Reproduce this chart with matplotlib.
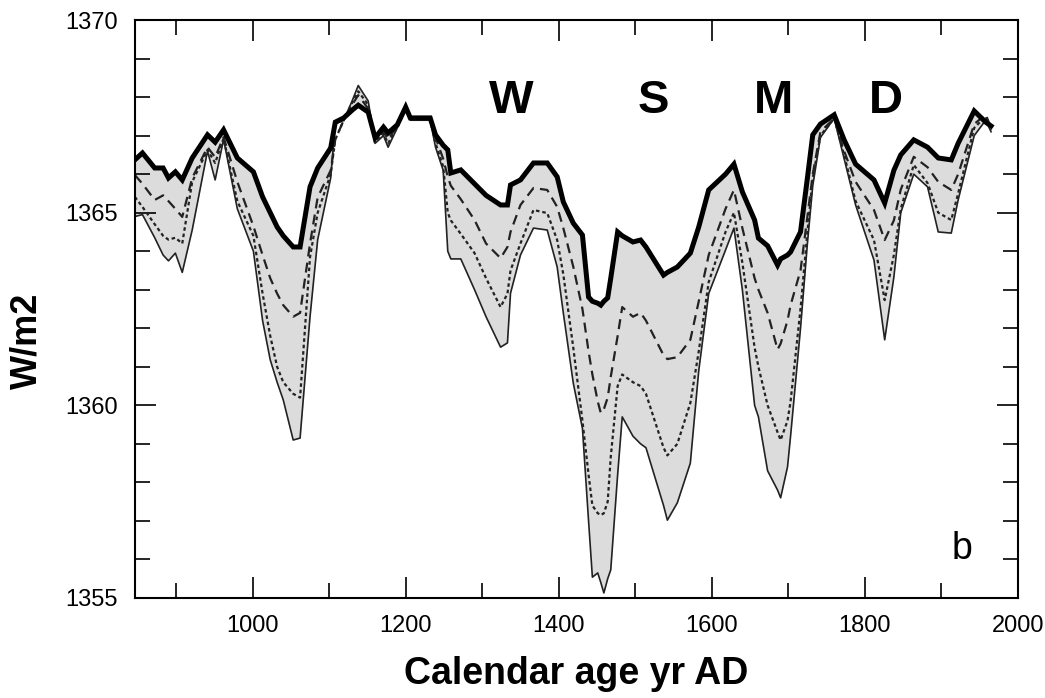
import numpy as np
import matplotlib
matplotlib.use("Agg")
import matplotlib.pyplot as plt

plt.rcParams['font.family'] = ['Liberation Sans', 'DejaVu Sans']

# years (yr AD) and irradiance (W/m2)
years = [846, 856, 872, 883, 890, 899, 908, 921, 941, 951, 962, 980, 1001, 1013,
         1023, 1032, 1040, 1053, 1062, 1075, 1085, 1102, 1108, 1119, 1130, 1138,
         1151, 1160, 1171, 1177, 1189, 1200, 1206, 1232, 1239, 1249, 1255, 1259,
         1272, 1290, 1305, 1324, 1333, 1337, 1350, 1367, 1385, 1398, 1406, 1419,
         1431, 1439, 1444, 1451, 1455, 1459, 1464, 1468, 1477, 1483, 1497, 1507,
         1514, 1537, 1542, 1555, 1572, 1583, 1596, 1618, 1629, 1640, 1656, 1661,
         1673, 1686, 1690, 1699, 1703, 1716, 1725, 1732, 1742, 1760, 1773, 1788,
         1812, 1826, 1838, 1847, 1864, 1882, 1896, 1913, 1922, 1943, 1958, 1965]

upper = [1366.37, 1366.55, 1366.16, 1366.16, 1365.90, 1366.06, 1365.85, 1366.42,
         1367.02, 1366.83, 1367.15, 1366.42, 1366.06, 1365.41, 1365.00, 1364.63,
         1364.40, 1364.11, 1364.11, 1365.67, 1366.16, 1366.68, 1367.35, 1367.46,
         1367.66, 1367.79, 1367.61, 1366.94, 1367.22, 1367.07, 1367.28, 1367.74,
         1367.46, 1367.46, 1367.02, 1366.75, 1366.63, 1366.03, 1366.11, 1365.75,
         1365.45, 1365.20, 1365.20, 1365.72, 1365.85, 1366.29, 1366.29, 1365.93,
         1365.28, 1364.73, 1364.42, 1362.81, 1362.70, 1362.65, 1362.60, 1362.70,
         1362.79, 1363.30, 1364.50, 1364.40, 1364.24, 1364.29, 1364.11, 1363.38,
         1363.45, 1363.59, 1363.95, 1364.63, 1365.59, 1366.00, 1366.26, 1365.54,
         1364.81, 1364.34, 1364.14, 1363.64, 1363.80, 1363.90, 1363.98, 1364.50,
         1365.90, 1367.02, 1367.30, 1367.54, 1366.89, 1366.26, 1365.85, 1365.25,
         1366.10, 1366.50, 1366.89, 1366.70, 1366.42, 1366.37, 1366.80, 1367.64,
         1367.35, 1367.25]

dashed = [1365.98, 1365.75, 1365.33, 1365.45, 1365.30, 1365.10, 1364.89, 1365.90,
          1366.70, 1366.44, 1366.96, 1365.80, 1364.65, 1363.90, 1363.30, 1362.90,
          1362.60, 1362.30, 1362.40, 1364.20, 1365.40, 1366.10, 1366.90, 1367.40,
          1367.80, 1368.05, 1367.70, 1366.90, 1367.10, 1366.90, 1367.25, 1367.72,
          1367.45, 1367.45, 1366.95, 1366.40, 1365.93, 1365.70, 1365.35, 1364.81,
          1364.20, 1363.82, 1364.11, 1364.50, 1365.20, 1365.64, 1365.59, 1365.15,
          1364.60, 1363.60, 1362.50, 1361.40, 1360.80, 1360.10, 1359.80, 1359.90,
          1360.20, 1360.74, 1361.80, 1362.55, 1362.30, 1362.40, 1362.20, 1361.30,
          1361.20, 1361.25, 1361.70, 1362.70, 1363.90, 1365.10, 1365.59, 1364.60,
          1363.30, 1363.00, 1362.40, 1361.45, 1361.60, 1362.20, 1362.60, 1363.50,
          1364.90, 1366.00, 1367.10, 1367.45, 1366.60, 1365.80, 1365.07, 1364.29,
          1364.80, 1365.60, 1366.45, 1366.18, 1365.80, 1365.59, 1366.00, 1367.30,
          1367.55, 1367.20]

dotted = [1365.41, 1365.15, 1364.70, 1364.40, 1364.30, 1364.35, 1364.20, 1365.80,
          1366.63, 1366.29, 1366.93, 1365.30, 1364.40, 1362.90, 1361.80, 1361.00,
          1360.60, 1360.30, 1360.20, 1363.85, 1365.00, 1366.00, 1366.90, 1367.40,
          1367.85, 1368.15, 1367.80, 1366.85, 1367.05, 1366.80, 1367.22, 1367.70,
          1367.42, 1367.42, 1366.80, 1366.20, 1365.00, 1364.80, 1364.45, 1363.95,
          1363.30, 1362.55, 1362.90, 1363.50, 1364.20, 1365.07, 1364.99, 1364.29,
          1363.40, 1361.50, 1359.60, 1358.20, 1357.40, 1357.20, 1357.15, 1357.20,
          1357.50, 1358.66, 1360.50, 1360.80, 1360.60, 1360.50, 1360.30, 1358.90,
          1358.70, 1359.00, 1360.06, 1361.40, 1363.20, 1364.50, 1365.00, 1363.70,
          1361.50, 1361.00, 1360.00, 1359.30, 1359.10, 1359.60, 1360.10, 1362.50,
          1364.50, 1365.90, 1367.00, 1367.45, 1366.50, 1365.30, 1364.29, 1362.73,
          1363.90, 1365.10, 1366.24, 1365.77, 1365.00, 1364.81, 1365.50, 1367.20,
          1367.50, 1367.15]

lower = [1364.90, 1364.95, 1364.35, 1363.90, 1363.75, 1363.95, 1363.45, 1364.55,
         1366.60, 1365.85, 1366.90, 1365.10, 1364.00, 1362.20, 1361.18, 1360.60,
         1360.14, 1359.10, 1359.15, 1362.30, 1364.30, 1365.90, 1367.30, 1367.40,
         1367.90, 1368.30, 1367.90, 1366.80, 1367.00, 1366.70, 1367.20, 1367.70,
         1367.40, 1367.40, 1366.70, 1366.10, 1364.00, 1363.80, 1363.80, 1363.00,
         1362.30, 1361.51, 1361.62, 1362.91, 1363.90, 1364.60, 1364.55, 1363.59,
         1362.40, 1360.58, 1359.40, 1357.00, 1355.54, 1355.65, 1355.40, 1355.13,
         1355.50, 1355.73, 1358.20, 1359.70, 1359.20, 1359.00, 1358.90, 1357.40,
         1357.02, 1357.47, 1358.50, 1360.90, 1362.90, 1364.03, 1364.60, 1363.00,
         1360.00, 1359.70, 1358.30, 1357.80, 1357.60, 1358.40, 1359.20, 1362.00,
         1364.20, 1365.70, 1366.95, 1367.45, 1366.40, 1365.20, 1363.77, 1361.70,
         1363.33, 1365.00, 1366.00, 1365.67, 1364.50, 1364.47, 1365.33, 1367.00,
         1367.40, 1367.10]

events = ['W', 'S', 'M', 'D']
event_years = [1338, 1524, 1681, 1827]

fig = plt.figure(figsize=(10.45, 6.98), dpi=100)
ax = fig.add_axes([0.129, 0.1433, 0.845, 0.828])

ax.fill_between(years, lower, upper, color='#dcdcdc', lw=0)
ax.plot(years, lower, color='#222222', lw=1.2)
ax.plot(years, dotted, color='#222222', lw=1.6, dashes=(1.6, 1.3))
ax.plot(years, dashed, color='#222222', lw=1.6, dashes=(4.5, 2.8))
ax.plot(years, upper, color='black', lw=3.6, solid_joinstyle='miter')

for lab, yr in zip(events, event_years):
    ax.text(yr, 1367.9, lab, fontsize=34, fontweight='bold', ha='center', va='center')
ax.text(1927, 1356.27, 'b', fontsize=27, ha='center', va='center')

ax.set_xlim(846, 2000)
ax.set_ylim(1355, 1370)
ax.set_xticks(range(1000, 2001, 200))
ax.set_xticks(range(900, 2000, 100), minor=True)
ax.set_yticks([1355, 1360, 1365, 1370])
ax.set_yticks(range(1356, 1370), minor=True)
ax.tick_params(which='both', direction='in', top=True, right=True,
               labelsize=17, width=1.2)
ax.tick_params(which='major', length=15, pad=12)
ax.tick_params(which='minor', length=11)
for s in ax.spines.values():
    s.set_linewidth(1.5)

ax.set_xlabel('Calendar age yr AD', fontsize=27, fontweight='bold', labelpad=14)
ax.set_ylabel('W/m2', fontsize=26, fontweight='bold')
ax.yaxis.set_label_coords(-0.102, 0.445)

fig.savefig('out.png', dpi=100)
